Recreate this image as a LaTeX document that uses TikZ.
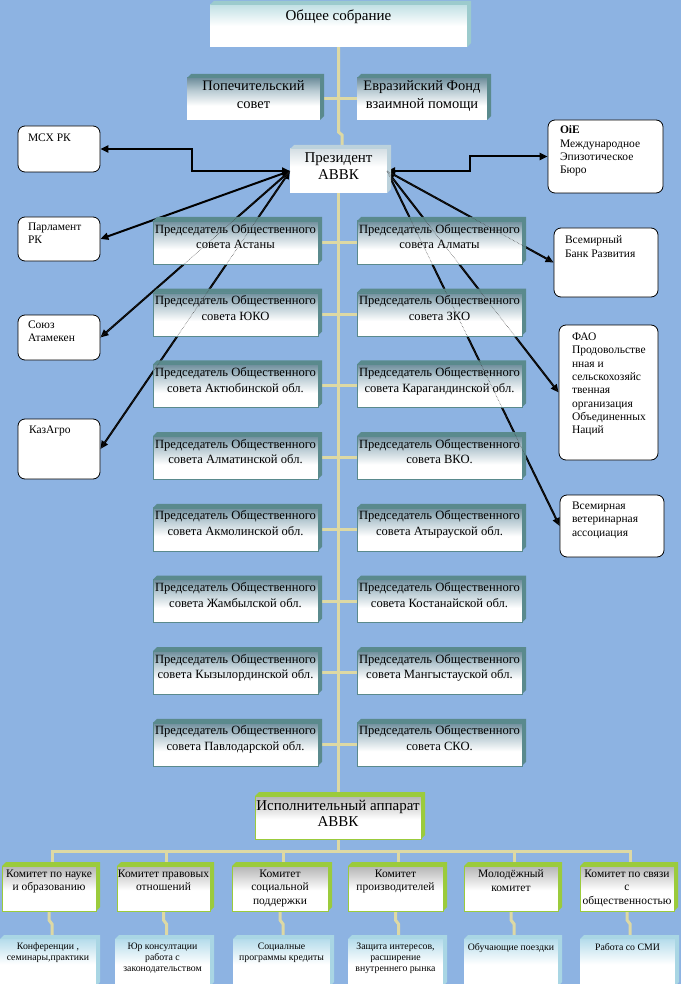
\documentclass[tikz,border=0pt]{standalone}
\usepackage{fontspec}
\setmainfont{Liberation Serif}
\usetikzlibrary{arrows.meta,calc}
\pgfdeclarelayer{bg}\pgfdeclarelayer{lines}\pgfdeclarelayer{top}
\pgfsetlayers{bg,lines,main,top}
\definecolor{bgblue}{HTML}{8DB3E2}
\definecolor{khaki}{HTML}{DDD9A4}
\definecolor{ctop}{HTML}{6F8E9C}
\definecolor{cmid}{HTML}{B9CBD3}
\definecolor{cdep}{HTML}{5A8A8D}
\definecolor{gtop}{HTML}{C2E1E5}
\definecolor{gdep}{HTML}{9CCBCD}
\definecolor{ptop}{HTML}{D5DFE4}
\definecolor{pdep}{HTML}{BCD2DC}
\definecolor{ktop}{HTML}{B5B5B5}
\definecolor{kdep}{HTML}{9BCB3C}
\definecolor{stop}{HTML}{B5DCEB}
\definecolor{sdep}{HTML}{A9D6E4}
\pgfdeclareverticalshading{councilsh}{100bp}{color(0bp)=(white); color(25bp)=(white); color(42bp)=(white); color(60bp)=(cmid); color(75bp)=(ctop); color(100bp)=(ctop)}
\pgfdeclareverticalshading{gensh}{100bp}{color(0bp)=(white); color(25bp)=(white); color(50bp)=(white); color(75bp)=(gtop); color(100bp)=(gtop)}
\pgfdeclareverticalshading{pressh}{100bp}{color(0bp)=(white); color(25bp)=(white); color(55bp)=(white); color(75bp)=(ptop); color(100bp)=(ptop)}
\pgfdeclareverticalshading{kommsh}{100bp}{color(0bp)=(white); color(25bp)=(white); color(48bp)=(white); color(75bp)=(ktop); color(100bp)=(ktop)}
\pgfdeclareverticalshading{subsh}{100bp}{color(0bp)=(white); color(25bp)=(white); color(48bp)=(white); color(75bp)=(stop); color(100bp)=(stop)}
\newcommand\bt[4]{\parbox[c][#2][t]{#1}{\centering\vspace*{#3}#4\par}}
\newcommand\et[5]{\parbox[c][#2][t]{#1}{\vspace*{#4}\raggedright\leftskip=#3\relax #5\par}}
\newcommand\dpth[2]{\fill[#2] (#1.north west) -- ([shift={(4,-4)}]#1.north west) -- ([shift={(4,-4)}]#1.north east) -- ([shift={(4,-4)}]#1.south east) -- (#1.south east) -- (#1.north east) -- cycle;}
\tikzset{
  face/.style={inner sep=0pt, outer sep=0pt},
  council/.style={face, shading=councilsh, draw=cdep, line width=0.4pt, font=\fontsize{12.6}{15.7}\selectfont},
  genb/.style={face, shading=gensh, font=\fontsize{15}{17}\selectfont},
  topb/.style={face, shading=councilsh, font=\fontsize{14.5}{18}\selectfont},
  presb/.style={face, shading=pressh, font=\fontsize{15}{17}\selectfont},
  execb/.style={face, shading=kommsh, draw=kdep, line width=0.6pt, font=\fontsize{15}{16.7}\selectfont},
  komm/.style={face, shading=kommsh, draw=kdep, line width=0.6pt, font=\fontsize{11.5}{13.3}\selectfont},
  subb/.style={face, shading=subsh, font=\fontsize{9.8}{11}\selectfont},
  ext/.style={draw=black, line width=0.8pt, fill=white, rounded corners=7pt, inner sep=0pt, font=\fontsize{11.5}{13.3}\selectfont},
  kh/.style={draw=khaki, line width=3pt},
  blk/.style={draw=black, line width=2pt, {Triangle[length=8pt,width=7pt]}-{Triangle[length=8pt,width=7pt]}},
  thru/.style={draw=black!75, line width=0.5pt, densely dotted},
}
\begin{document}
\begin{tikzpicture}[x=1pt,y=-1pt]
\useasboundingbox (0,0) rectangle (681,984);
\begin{pgfonlayer}{bg}
\fill[bgblue] (0,0) rectangle (681,984);
\end{pgfonlayer}

% top
\node[genb] (gen) at (338.5,26) {\bt{257pt}{42pt}{5pt}{Общее собрание}};
\node[topb] (pop) at (253.5,99) {\bt{133pt}{42pt}{3pt}{Попечительский\\совет}};
\node[topb] (evr) at (422,99) {\bt{130pt}{42pt}{3pt}{Евразийский Фонд\\взаимной помощи}};
\node[presb] (pres) at (338.5,171) {\bt{97pt}{44pt}{4pt}{Президент\\АВВК}};

% councils
\node[council] (cL1) at (235.5,242.5) {\bt{165pt}{43pt}{3pt}{Председатель Общественного\\совета Астаны}};
\node[council] (cL2) at (235.5,314.2) {\bt{165pt}{43pt}{3pt}{Председатель Общественного\\совета ЮКО}};
\node[council] (cL3) at (235.5,385.9) {\bt{165pt}{43pt}{3pt}{Председатель Общественного\\совета Актюбинской обл.}};
\node[council] (cL4) at (235.5,457.6) {\bt{165pt}{43pt}{3pt}{Председатель Общественного\\совета Алматинской обл.}};
\node[council] (cL5) at (235.5,529.3) {\bt{165pt}{43pt}{3pt}{Председатель Общественного\\совета Акмолинской обл.}};
\node[council] (cL6) at (235.5,601.0) {\bt{165pt}{43pt}{3pt}{Председатель Общественного\\совета Жамбылской обл.}};
\node[council] (cL7) at (235.5,672.7) {\bt{165pt}{43pt}{3pt}{Председатель Общественного\\совета Кызылординской обл.}};
\node[council] (cL8) at (235.5,744.4) {\bt{165pt}{43pt}{3pt}{Председатель Общественного\\совета Павлодарской обл.}};
\node[council] (cR1) at (439.5,242.5) {\bt{165pt}{43pt}{3pt}{Председатель Общественного\\совета Алматы}};
\node[council] (cR2) at (439.5,314.2) {\bt{165pt}{43pt}{3pt}{Председатель Общественного\\совета ЗКО}};
\node[council] (cR3) at (439.5,385.9) {\bt{165pt}{43pt}{3pt}{Председатель Общественного\\совета Карагандинской обл.}};
\node[council] (cR4) at (439.5,457.6) {\bt{165pt}{43pt}{3pt}{Председатель Общественного\\совета ВКО.}};
\node[council] (cR5) at (439.5,529.3) {\bt{165pt}{43pt}{3pt}{Председатель Общественного\\совета Атырауской обл.}};
\node[council] (cR6) at (439.5,601.0) {\bt{165pt}{43pt}{3pt}{Председатель Общественного\\совета Костанайской обл.}};
\node[council] (cR7) at (439.5,672.7) {\bt{165pt}{43pt}{3pt}{Председатель Общественного\\совета Мангыстауской обл.}};
\node[council] (cR8) at (439.5,744.4) {\bt{165pt}{43pt}{3pt}{Председатель Общественного\\совета СКО.}};

% executive and committees
\node[execb] (exec) at (338,817.5) {\bt{166pt}{43pt}{4pt}{Исполнительный аппарат\\АВВК}};
\node[komm] (k1) at (49,888.5) {\bt{94pt}{45pt}{4pt}{Комитет по науке\\и образованию}};
\node[komm] (k2) at (163.5,888.5) {\bt{93pt}{45pt}{4pt}{Комитет правовых\\отношений}};
\node[komm] (k3) at (280,888.5) {\bt{96pt}{45pt}{4pt}{Комитет\\социальной\\поддержки}};
\node[komm] (k4) at (395.5,888.5) {\bt{95pt}{45pt}{4pt}{Комитет\\производителей}};
\node[komm] (k5) at (511,888.5) {\bt{94pt}{45pt}{4pt}{Молодёжный\\комитет}};
\node[komm] (k6) at (627,888.5) {\bt{94pt}{45pt}{4pt}{Комитет по связи\\с\\общественностью}};
\node[subb] (s1) at (48,962.5) {\bt{96pt}{47pt}{4pt}{Конференции ,\\семинары,практики}};
\node[subb] (s2) at (162.5,962.5) {\bt{95pt}{47pt}{4pt}{Юр консултации\\работа с\\законодательством}};
\node[subb] (s3) at (281.5,962.5) {\bt{97pt}{47pt}{4pt}{Социалные\\программы кредиты}};
\node[subb] (s4) at (395.5,962.5) {\bt{95pt}{47pt}{4pt}{Защита интересов,\\расширение\\внутреннего рынка}};
\node[subb] (s5) at (511,962.5) {\bt{94pt}{47pt}{4pt}{Обучающие поездки}};
\node[subb] (s6) at (627.5,962.5) {\bt{95pt}{47pt}{4pt}{Работа со СМИ}};

% depth faces
\dpth{gen}{gdep}
\dpth{pop}{cdep}
\dpth{evr}{cdep}
\dpth{pres}{pdep}
\foreach \i in {1,...,8} {\dpth{cL\i}{cdep}\dpth{cR\i}{cdep}}
\dpth{exec}{kdep}
\foreach \i in {1,...,6} {\dpth{k\i}{kdep}\dpth{s\i}{sdep}}

% external partners
\node[ext] (mcx) at (59,149) {\et{82pt}{46pt}{10pt}{8pt}{МСХ РК}};
\node[ext] (parl) at (59,239) {\et{82pt}{44pt}{10pt}{6pt}{Парламент\\РК}};
\node[ext] (soyuz) at (59,337.5) {\et{82pt}{45pt}{10pt}{6pt}{Союз\\Атамекен}};
\node[ext] (kaz) at (59,449) {\et{82pt}{60pt}{11pt}{7pt}{КазАгро}};
\node[ext] (oie) at (605.5,156.5) {\et{115pt}{73pt}{12pt}{6pt}{\textbf{OiE}\\Международное\\Эпизотическое\\Бюро}};
\node[ext] (bank) at (606,262.5) {\et{104pt}{69pt}{11pt}{8pt}{Всемирный\\Банк Развития}};
\node[ext] (fao) at (608.5,392.5) {\et{99pt}{135pt}{13pt}{8pt}{ФАО\\Продовольстве\\нная и\\сельскохозяйс\\твенная\\организация\\Объединенных\\Наций}};
\node[ext] (vet) at (612,526) {\et{104pt}{62pt}{12pt}{7pt}{Всемирная\\ветеринарная\\ассоциация}};

\coordinate (bus) at (338,851);

\begin{pgfonlayer}{lines}
% khaki tree
\draw[kh] (gen.south) -- ++(0,85) -- ++(3.5,3) -- ++(0,14);
\draw[kh] (pop.east) -- (evr.west);
\draw[kh] (pres.south) -- (pres.south |- exec.north);
\foreach \i in {1,...,8} {\draw[kh] (cL\i.east) -- (cR\i.west);}
\draw[kh] (exec.south) -- (bus);
\draw[kh] ([xshift=3pt]k1.north) |- (bus) -| ([xshift=3pt]k6.north);
\foreach \i in {2,...,5} {\draw[kh] ([xshift=3pt]k\i.north) -- ([xshift=3pt]k\i.north |- bus);}
\foreach \i in {1,...,6} {\draw[kh] (k\i.south) -- ++(0,9) -- ++(3,4) -- (s\i.north -| {$(k\i.south)+(3,0)$});}
% partner links
\draw[blk] (pres.west) -- ++(-98,0) |- (mcx.east);
\draw[blk] (pres.west) -- (parl.east);
\draw[blk] (pres.west) -- (soyuz.east);
\draw[blk] (pres.west) -- (kaz.east);
\draw[blk] (pres.east) -- ++(83,0) |- (oie.west);
\draw[blk] (pres.east) -- (bank.west);
\draw[blk] (pres.east) -- (fao.west);
\draw[blk] (pres.east) -- (vet.west);
\end{pgfonlayer}
\begin{pgfonlayer}{top}
\draw[thru] (pres.west) -- (soyuz.east);
\draw[thru] (pres.west) -- (kaz.east);
\draw[thru] (pres.east) -- (bank.west);
\draw[thru] (pres.east) -- (fao.west);
\draw[thru] (pres.east) -- (vet.west);
\end{pgfonlayer}
\end{tikzpicture}
\end{document}
